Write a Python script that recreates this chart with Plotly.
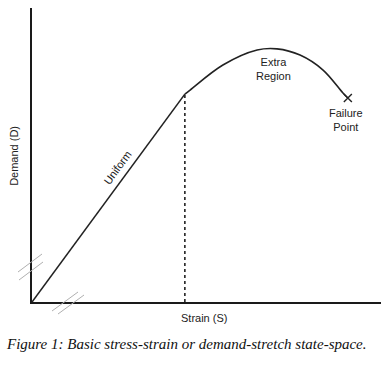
import plotly.graph_objects as go

# ---- data ----
uniform_strain = [0, 43.8]
uniform_demand = [0, 70.7]

extra_strain = [43.8, 45.3, 54.7, 64.5, 70.2, 76.8, 83.4, 89.1, 90.5]
extra_demand = [70.7, 72.1, 80.6, 85.7, 86.1, 84.0, 78.9, 71.1, 69.4]

elastic_strain = [43.8, 43.8]
elastic_demand = [0, 70.7]

failure_strain = [90.5]
failure_demand = [69.4]

label_color = "#222222"
line_color = "#222222"

fig = go.Figure()
fig.add_trace(go.Scatter(x=uniform_strain, y=uniform_demand, mode="lines",
                         line=dict(color=line_color, width=1.6), hoverinfo="skip"))
fig.add_trace(go.Scatter(x=extra_strain, y=extra_demand, mode="lines",
                         line=dict(color=line_color, width=1.6, shape="spline", smoothing=1.0),
                         hoverinfo="skip"))
fig.add_trace(go.Scatter(x=elastic_strain, y=elastic_demand, mode="lines",
                         line=dict(color=line_color, width=1.6, dash="3px,3px"), hoverinfo="skip"))
fig.add_trace(go.Scatter(x=failure_strain, y=failure_demand, mode="markers",
                         marker=dict(symbol="x-thin", size=8, line=dict(color=line_color, width=1.4)),
                         hoverinfo="skip"))

font = dict(family="Liberation Sans, Arial, sans-serif", size=11, color=label_color)

anns = [
    dict(x=69.1, y=79.4, xref="x", yref="y", text="Extra<br>Region"),
    dict(x=90.1, y=61.9, xref="x", yref="y", text="Failure<br>Point"),
    dict(x=24.6, y=45.9, xref="x", yref="y", text="Uniform", textangle=-54),
    dict(x=-0.0516, y=49.7, xref="paper", yref="y", text="Demand (D)", textangle=-90),
    dict(x=49.3, y=-0.054, xref="x", yref="paper", text="Strain (S)"),
]
for a in anns:
    fig.add_annotation(showarrow=False, font=font, xanchor="center", yanchor="middle", **a)

fig.add_annotation(x=0.443, y=-0.143, xref="paper", yref="paper", showarrow=False,
                   xanchor="center", yanchor="middle",
                   text="<i>Figure 1: Basic stress-strain or demand-stretch state-space.</i>",
                   font=dict(family="Liberation Serif, serif", size=15, color="#111111"))

# axis break marks (light gray double slashes)
def px(xp):
    return (xp - 32) / 349

def py(yp):
    return (302 - yp) / 294

breaks = [
    ((18, 272), (42, 254)), ((19, 280), (43, 262)),
    ((52, 311), (78, 292)), ((58, 314), (84, 295)),
]
for (x0, y0), (x1, y1) in breaks:
    fig.add_shape(type="line", xref="paper", yref="paper",
                  x0=px(x0), y0=py(y0), x1=px(x1), y1=py(y1),
                  line=dict(color="#b0b0b0", width=1))

fig.update_xaxes(range=[0, 100], showline=True, linecolor="#1a1a1a", linewidth=2,
                 showgrid=False, zeroline=False, showticklabels=False, ticks="", mirror=False)
fig.update_yaxes(range=[0, 100], showline=True, linecolor="#1a1a1a", linewidth=2,
                 showgrid=False, zeroline=False, showticklabels=False, ticks="", mirror=False)

fig.update_layout(width=392, height=366, margin=dict(l=32, r=11, t=8, b=64),
                  paper_bgcolor="white", plot_bgcolor="white", showlegend=False)

fig.write_html("out.html", config={"displayModeBar": False},
               post_script="document.body.style.margin='0';document.body.style.overflow='hidden';")
